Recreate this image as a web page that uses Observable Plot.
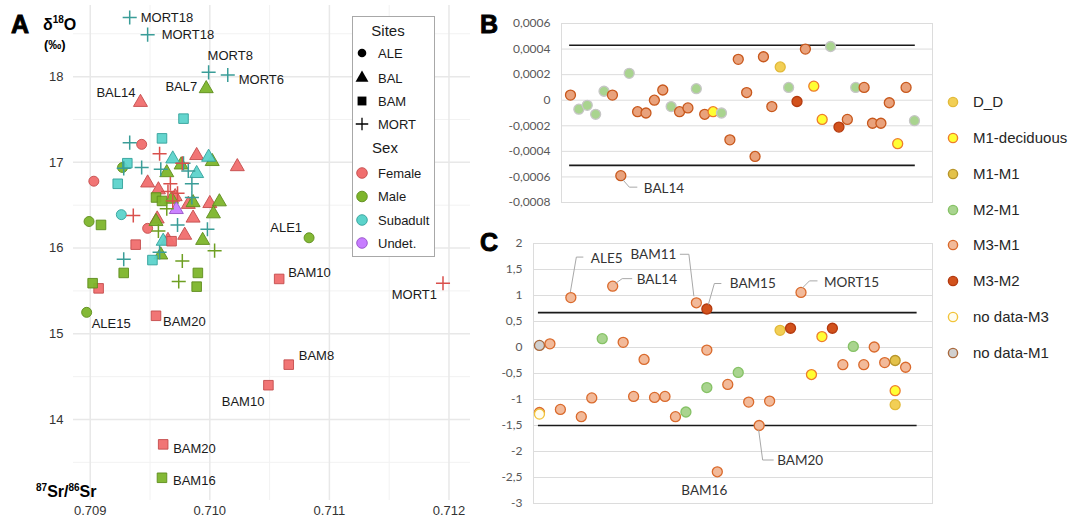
<!DOCTYPE html>
<html><head><meta charset="utf-8">
<script src="https://cdn.jsdelivr.net/npm/d3@7"></script>
<script src="https://cdn.jsdelivr.net/npm/@observablehq/plot@0.6"></script>
<style>
body{margin:0;background:#fff;}
#wrap{position:relative;width:1069px;height:518px;overflow:hidden;background:#fff;}
#wrap > *{position:absolute;}
</style></head><body><div id="wrap"></div>
<script>
// ---------- Panel A data ----------
const aSite = [
 "ALE","ALE","ALE","ALE","ALE","ALE","ALE","ALE",
 "BAL","BAL","BAL","BAL","BAL","BAL","BAL","BAL","BAL","BAL","BAL","BAL","BAL","BAL","BAL","BAL","BAL","BAL","BAL","BAL","BAL","BAL","BAL","BAL","BAL","BAL","BAL","BAL",
 "BAM","BAM","BAM","BAM","BAM","BAM","BAM","BAM","BAM","BAM","BAM","BAM","BAM","BAM","BAM","BAM","BAM","BAM","BAM","BAM","BAM",
 "MORT","MORT","MORT","MORT","MORT","MORT","MORT","MORT","MORT","MORT","MORT","MORT","MORT","MORT","MORT","MORT","MORT","MORT","MORT","MORT","MORT","MORT","MORT","MORT","MORT","MORT","MORT","MORT","MORT"];
const aSex = [
 "Female","Female","Female","Male","Male","Male","Male","Subadult",
 "Female","Female","Female","Female","Female","Female","Female","Female","Female","Female","Female","Female","Male","Male","Male","Male","Male","Male","Male","Male","Male","Male","Male","Subadult","Subadult","Subadult","Subadult","Undet.",
 "Female","Female","Female","Female","Female","Female","Female","Female","Male","Male","Male","Male","Male","Male","Male","Male","Subadult","Subadult","Subadult","Subadult","Subadult",
 "Subadult","Subadult","Subadult","Subadult","Subadult","Subadult","Subadult","Subadult","Subadult","Subadult","Subadult","Subadult","Subadult","Subadult","Subadult","Subadult","Female","Female","Female","Female","Female","Female","Female","Female","Male","Male","Male","Male","Male"];
const aSr = [
 0.70943,0.70903,0.70948,0.70927,0.70899,0.71083,0.70897,0.70926,
 0.70942,0.70989,0.71023,0.70948,0.70957,0.70982,0.71000,0.70956,0.70986,0.70979,0.70965,0.70971,0.70997,0.71002,0.70976,0.70964,0.70968,0.70986,0.71008,0.71003,0.70955,0.70994,0.70959,0.70969,0.70999,0.70989,0.70961,0.70972,
 0.71058,0.70955,0.71066,0.71049,0.70961,0.70938,0.70968,0.70907,0.70960,0.70909,0.70955,0.70960,0.70928,0.70990,0.70989,0.70902,0.70978,0.70960,0.70931,0.70923,0.70952,
 0.70933,0.70948,0.70999,0.71015,0.70933,0.70928,0.70943,0.70959,0.70978,0.70982,0.70985,0.70985,0.70973,0.70998,0.70928,0.70958,0.71195,0.70958,0.70977,0.70967,0.70965,0.70973,0.70969,0.70936,0.70964,0.70957,0.71004,0.70977,0.70974];
const aO = [
 17.21,16.78,16.23,16.94,16.31,16.12,15.25,16.39,
 17.70,17.08,16.95,16.76,16.68,16.51,16.52,16.34,16.35,16.15,16.09,16.60,17.86,17.01,16.97,16.88,16.57,16.53,16.54,16.40,16.31,16.09,15.92,17.04,17.06,16.87,16.08,16.45,
 15.64,15.21,14.64,14.40,13.71,16.04,16.08,15.53,13.32,16.27,16.59,16.55,15.71,15.71,15.55,15.59,17.51,17.28,16.99,16.75,15.86,
 18.69,18.49,18.05,18.02,17.23,16.93,16.94,16.92,16.99,16.90,16.75,16.59,16.27,16.22,15.87,15.95,15.59,17.10,16.99,16.75,16.66,16.64,16.55,16.38,16.46,16.20,15.97,15.85,15.61];
const aLabel = [
 "","","","","","ALE1","ALE15","",
 "BAL14","","","","","","","","","","","","BAL7","","","","","","","","","","","","","","","",
 "BAM10","BAM20","BAM8","BAM10","BAM20","","","","BAM16","","","","","","","","","","","","",
 "MORT18","MORT18","MORT8","MORT6","","","","","","","","","","","","","MORT1","","","","","","","","","","","",""];
const aXTicks = [0.709, 0.710, 0.711, 0.712];
const aXMinor = [0.7095, 0.7105, 0.7115];
const aYTicks = [14, 15, 16, 17, 18];
const aYMinor = [13.5, 14.5, 15.5, 16.5, 17.5, 18.5];
const siteNames = ["ALE","BAL","BAM","MORT"];
const sexNames = ["Female","Male","Subadult","Undet."];

// ---------- Panel B data ----------
const bIdx = [1,2,3,4,5,6,7,8,9,10,11,12,13,14,15,16,17,18,19,20,21,22,23,24,25,26,27,28,29,30,31,32,33,34,35,36,37,38,39,40,41,42];
const bVal = [0.00004,-0.00007,-0.00004,-0.00011,0.00007,0.00004,-0.00059,0.00021,-0.00009,-0.0001,0.0,0.00008,-0.00005,-0.00009,-0.00006,0.00009,-0.00011,-0.00009,-0.0001,-0.00031,0.00032,0.00006,-0.00044,0.00034,-0.00005,0.00026,0.0001,-0.00001,0.0004,0.00011,-0.00015,0.00042,-0.00021,-0.00015,0.0001,0.0001,-0.00018,-0.00018,-0.00002,-0.00034,0.0001,-0.00016];
const bCat = ["M3-M1","M2-M1","M2-M1","M2-M1","M2-M1","M3-M1","M3-M1","M2-M1","M3-M1","M3-M1","M3-M1","M3-M1","M2-M1","M3-M1","M3-M1","M2-M1","M3-M1","M1-deciduous","M2-M1","M3-M1","M3-M1","M3-M1","M3-M1","M3-M1","M3-M1","D_D","M2-M1","M3-M2","M3-M1","M1-deciduous","M1-deciduous","M2-M1","M3-M2","M3-M1","M2-M1","M3-M1","M3-M1","M3-M1","M3-M1","M1-deciduous","M3-M1","M2-M1"];
const bLabel = ["","","","","","","BAL14","","","","","","","","","","","","","","","","","","","","","","","","","","","","","","","","","","",""];
const bTicks = [-0.0008,-0.0006,-0.0004,-0.0002,0,0.0002,0.0004,0.0006];
const bLimits = [0.00043,-0.00051];

// ---------- Panel C data ----------
const cIdx = [1,1,1,2,3,4,5,6,7,8,9,10,11,12,13,14,15,16,17,17,17,18,19,20,21,22,23,24,25,26,27,28,29,30,31,32,33,34,35,35,35,36];
const cVal = [0.04,-1.25,-1.28,0.07,-1.19,0.96,-1.33,-0.97,0.17,1.18,0.10,-0.94,-0.23,-0.96,-0.94,-1.33,-1.24,0.86,-0.77,-0.05,0.74,-2.39,-0.71,-0.48,-1.05,-1.50,-1.03,0.33,0.37,1.06,-0.52,0.21,0.37,-0.33,0.02,-0.33,0.01,-0.29,-0.25,-0.83,-1.10,-0.38];
const cCat = ["no data-M1","M3-M1","no data-M3","M3-M1","M3-M1","M3-M1","M3-M1","M3-M1","M2-M1","M3-M1","M3-M1","M3-M1","M3-M1","M3-M1","M3-M1","M3-M1","M2-M1","M3-M1","M2-M1","M3-M1","M3-M2","M3-M1","M3-M1","M2-M1","M3-M1","M3-M1","M3-M1","D_D","M3-M2","M3-M1","M1-deciduous","M1-deciduous","M3-M2","M3-M1","M2-M1","M3-M1","M3-M1","M3-M1","M1-M1","M1-deciduous","D_D","M3-M1"];
const cLabel = ["","","","","","ALE5","","","","BAL14","","","","","","","","BAM11","","","BAM15","BAM16","","","","BAM20","","","","MORT15","","","","","","","","","","","",""];
const cTicks = [-3,-2.5,-2,-1.5,-1,-0.5,0,0.5,1,1.5,2];
const cLimits = [0.67,-1.5];
const catNames = ["D_D","M1-deciduous","M1-M1","M2-M1","M3-M1","M3-M2","no data-M3","no data-M1"];

// ---------- styles ----------
const sexFill = {"Female":"#F06E6E","Male":"#7DB52B","Subadult":"#5CD3CB","Undet.":"#C77CFF"};
const sexStroke = {"Female":"#C44C4C","Male":"#5E8C1C","Subadult":"#33A29B","Undet.":"#9550C8"};
const plusStroke = {"Female":"#D9504C","Male":"#6E9F22","Subadult":"#3A9D98","Undet.":"#9550C8"};
const siteSymbol = {"ALE":"circle","BAL":"triangle","BAM":"square","MORT":"plus"};
const siteR = {"ALE":5,"BAL":5.2,"BAM":5.4,"MORT":4.6};
const catFill = {"D_D":"#F2CF55","M1-deciduous":"#FFFF33","M1-M1":"#E3C24A","M2-M1":"#A9D48F","M3-M1":"#F2BA9A","M3-M2":"#D2521C","no data-M3":"#FFFDF0","no data-M1":"#D0D0D0"};
const catStroke = {"D_D":"#E2BA3A","M1-deciduous":"#EE7D2C","M1-M1":"#B8952A","M2-M1":"#86C266","M3-M1":"#DA6A2C","M3-M2":"#B43A0F","no data-M3":"#F2C43A","no data-M1":"#A8683C"};
const bFillOverride = {"M3-M1":"#E9A27C"};
const bStrokeOverride = {"M3-M1":"#C8581C","M2-M1":"#C6C6C6"};

// label placement (pixel offsets relative to the labelled point), in order of labelled points
const aPlace = [["end",-7,-10],["start",5,11],["end",-5,-10],["end",-9,-2],["start",9,-6],["start",7,6],["start",10,-9],["end",-4,17],["start",10,4],["start",11,3],["start",11,0],["start",14,0],["start",-1,-17],["start",11,5],["end",-6,12]];
const bPlace = [{anchor:"start",dx:23,dy:13,leader:[[2,4],[9,12],[17,12]]}];
const cPlace = [
 {anchor:"start",dx:20,dy:-39,leader:[[0,-5],[6,-40],[13,-40]]},
 {anchor:"start",dx:24,dy:-6,leader:[[3,-2],[10,-7],[20,-7]]},
 {anchor:"end",dx:-20,dy:-48,leader:[[-2,-6],[-7,-48],[-16,-48]]},
 {anchor:"start",dx:23,dy:-25,leader:[[2,-4],[8,-25],[15,-25]]},
 {anchor:"middle",dx:-13,dy:19,leader:null},
 {anchor:"start",dx:18,dy:35,leader:[[0,5],[4,35],[15,35]]},
 {anchor:"start",dx:23,dy:-10,leader:[[2,-4],[9,-11],[17,-11]]}
];

const wrap = document.getElementById("wrap");
function place(el, left, top){ el.style.left = left+"px"; el.style.top = top+"px"; wrap.appendChild(el); }
function scaleFn(s){ return s.apply ? (v=>s.apply(v)) : d3.scaleLinear().domain(s.domain).range(s.range); }
function addLeaders(svg, pts, places){
  const fx = scaleFn(svg.scale("x")), fy = scaleFn(svg.scale("y"));
  const g = d3.select(svg).append("g").attr("fill","none").attr("stroke","#A8A8A8").attr("stroke-width",1);
  pts.forEach((p,k)=>{
    const pl = places[k]; if(!pl || !pl.leader) return;
    const px = fx(p.x), py = fy(p.y);
    g.append("path").attr("d", d3.line()(pl.leader.map(([dx,dy])=>[px+dx,py+dy])));
  });
}

// ---------- Panel A ----------
const ptsA = aSr.map((x,i)=>({x, y:aO[i], site:aSite[i], sex:aSex[i], label:aLabel[i]}));
const labA = ptsA.filter(d=>d.label);
const plotA = Plot.plot({
  width: 480, height: 518,
  marginLeft: 73, marginRight: 10, marginTop: 5, marginBottom: 18,
  x: {domain:[0.70886,0.71218], ticks: aXTicks, tickFormat: d3.format(".3f"), tickSize: 0, tickPadding: 5, label: null},
  y: {domain:[13.055,18.83], ticks: aYTicks, tickFormat: d=>String(d), tickSize: 0, tickPadding: 10, label: null},
  color: {type:"identity"},
  style: {fontFamily:"'Liberation Sans', Arial, sans-serif", fontSize:"13px", color:"#333", background:"white"},
  marks: [
    Plot.ruleX(aXMinor, {stroke:"#F2F2F2", strokeWidth:1}),
    Plot.ruleY(aYMinor, {stroke:"#F2F2F2", strokeWidth:1}),
    Plot.ruleX(aXTicks, {stroke:"#E8E8E8", strokeWidth:1.5}),
    Plot.ruleY(aYTicks, {stroke:"#E8E8E8", strokeWidth:1.5}),
    ...["ALE","BAL","BAM"].map(s => Plot.dot(ptsA.filter(d=>d.site===s), {
      x:"x", y:"y", symbol: siteSymbol[s], r: siteR[s],
      fill: d=>sexFill[d.sex], stroke: d=>sexStroke[d.sex], strokeWidth:0.9, fillOpacity:0.95})),
    Plot.dot(ptsA.filter(d=>d.site==="MORT"), {x:"x", y:"y", symbol:"plus", r: siteR.MORT,
      stroke: d=>plusStroke[d.sex], strokeWidth:1.5}),
    ...labA.map((d,k)=>Plot.text([d], {x:"x", y:"y", text:"label", textAnchor: aPlace[k][0], dx: aPlace[k][1], dy: aPlace[k][2], fill:"#1a1a1a", fontSize:13}))
  ]
});
place(plotA, 0, 0);

// ---------- Panel B ----------
const fillOf = (cat, ov) => (ov && ov[cat]) || catFill[cat];
const strokeOf = (cat, ov) => (ov && ov[cat]) || catStroke[cat];
const ptsB = bIdx.map((x,i)=>({x, y:bVal[i], cat:bCat[i], label:bLabel[i]}));
const labB = ptsB.filter(d=>d.label);
const fmtB = d => d===0 ? "0" : (d<0?"-":"") + Math.abs(d).toFixed(4).replace(".",",");
const plotB = Plot.plot({
  width: 450, height: 215,
  marginLeft: 71, marginRight: 8, marginTop: 23, marginBottom: 13,
  x: {domain:[-0.07,44.15], axis:null},
  y: {domain:[-0.0008,0.0006], ticks: bTicks, tickFormat: fmtB, tickSize:0, tickPadding:11, label:null},
  color: {type:"identity"},
  style: {fontFamily:"Lato, 'Open Sans', sans-serif", fontSize:"12px", color:"#595959", background:"white"},
  marks: [
    Plot.ruleY(bTicks, {stroke:"#DCDCDC"}),
    Plot.frame({stroke:"#DCDCDC"}),
    Plot.ruleY(bLimits, {x1: bIdx[0]-0.1, x2: bIdx[bIdx.length-1]+0.1, stroke:"#1a1a1a", strokeWidth:1.6}),
    Plot.dot(ptsB, {x:"x", y:"y", r:5, fill: d=>fillOf(d.cat,bFillOverride), stroke: d=>strokeOf(d.cat,bStrokeOverride), strokeWidth:1.3}),
    ...labB.map((d,k)=>Plot.text([d], {x:"x", y:"y", text:"label", textAnchor: bPlace[k].anchor, dx: bPlace[k].dx, dy: bPlace[k].dy, fill:"#333", fontSize:13.5}))
  ]
});
addLeaders(plotB, labB, bPlace);
place(plotB, 490, 0);

// ---------- Panel C ----------
const ptsC = cIdx.map((x,i)=>({x, y:cVal[i], cat:cCat[i], label:cLabel[i]}));
const labC = ptsC.filter(d=>d.label);
const plotC = Plot.plot({
  width: 450, height: 298,
  marginLeft: 43, marginRight: 8, marginTop: 23, marginBottom: 15,
  x: {domain:[0.43,38.57], axis:null},
  y: {domain:[-3,2], ticks: cTicks, tickFormat: d=>String(d).replace(".",","), tickSize:0, tickPadding:11, label:null},
  color: {type:"identity"},
  style: {fontFamily:"Lato, 'Open Sans', sans-serif", fontSize:"12px", color:"#595959", background:"white"},
  marks: [
    Plot.ruleY(cTicks, {stroke:"#DCDCDC"}),
    Plot.frame({stroke:"#DCDCDC"}),
    Plot.ruleY(cLimits, {x1: cIdx[0]-0.1, x2: cIdx[cIdx.length-1]+1.1, stroke:"#1a1a1a", strokeWidth:1.6}),
    Plot.dot(ptsC, {x:"x", y:"y", r:5, fill: d=>fillOf(d.cat), stroke: d=>strokeOf(d.cat), strokeWidth:1.3}),
    ...labC.map((d,k)=>Plot.text([d], {x:"x", y:"y", text:"label", textAnchor: cPlace[k].anchor, dx: cPlace[k].dx, dy: cPlace[k].dy, fill:"#333", fontSize:13.5}))
  ]
});
addLeaders(plotC, labC, cPlace);
place(plotC, 490, 220);

// ---------- Overlay: panel letters, axis titles, legends ----------
const ov = d3.create("svg").attr("width",1069).attr("height",518)
  .style("font-family","'Liberation Sans', Arial, sans-serif").style("pointer-events","none");
const big = [["A",11,33],["B",480,33],["C",480,251]];
big.forEach(([t,x,y])=>ov.append("text").attr("x",x).attr("y",y).attr("font-size",25).attr("font-weight","bold")
  .attr("stroke","#000").attr("stroke-width",0.9).attr("fill","#000").text(t));
const yt = ov.append("text").attr("x",43).attr("y",30).attr("font-size",16).attr("font-weight","bold");
yt.append("tspan").text("δ");
yt.append("tspan").attr("font-size",10).attr("dy",-7).text("18");
yt.append("tspan").attr("dy",7).text("O");
ov.append("text").attr("x",44).attr("y",49).attr("font-size",13).attr("font-weight","bold").text("(‰)");
const xt = ov.append("text").attr("x",36).attr("y",497).attr("font-size",16).attr("font-weight","bold");
xt.append("tspan").attr("font-size",10).attr("dy",-6).text("87");
xt.append("tspan").attr("dy",6).text("Sr/");
xt.append("tspan").attr("font-size",10).attr("dy",-6).text("86");
xt.append("tspan").attr("dy",6).text("Sr");

// legend A
ov.append("rect").attr("x",352.5).attr("y",16.5).attr("width",82).attr("height",240).attr("fill","white").attr("stroke","#A8A8A8");
ov.append("text").attr("x",388).attr("y",36).attr("text-anchor","middle").attr("font-size",15).attr("fill","#1a1a1a").text("Sites");
const siteY = [53,78,101,124];
const legR = {"ALE":4.3,"BAL":4.8,"BAM":5,"MORT":4.1};
siteNames.forEach((s,i)=>{
  const sym = {circle:d3.symbolCircle, triangle:d3.symbolTriangle, square:d3.symbolSquare, plus:d3.symbolPlus}[siteSymbol[s]];
  const p = ov.append("path").attr("transform",`translate(362,${siteY[i]})`).attr("d", d3.symbol(sym, Math.PI*legR[s]*legR[s])());
  if (s==="MORT") p.attr("fill","none").attr("stroke","#000").attr("stroke-width",1.3); else p.attr("fill","#000");
  ov.append("text").attr("x",378).attr("y",siteY[i]+4.6).attr("font-size",13).attr("fill","#1a1a1a").text(s);
});
ov.append("text").attr("x",385).attr("y",153).attr("text-anchor","middle").attr("font-size",15).attr("fill","#1a1a1a").text("Sex");
const sexY = [173,196.5,220,243];
sexNames.forEach((s,i)=>{
  ov.append("circle").attr("cx",362).attr("cy",sexY[i]).attr("r",5.3).attr("fill",sexFill[s]).attr("stroke",sexStroke[s]).attr("stroke-width",0.9);
  ov.append("text").attr("x",378).attr("y",sexY[i]+4.6).attr("font-size",13).attr("fill","#1a1a1a").text(s);
});

// legend B/C
const catY = [102,138,174,210,245,281,317,353];
catNames.forEach((c,i)=>{
  ov.append("circle").attr("cx",953).attr("cy",catY[i]).attr("r",4.6).attr("fill",catFill[c]).attr("stroke",catStroke[c]).attr("stroke-width",1.4);
  ov.append("text").attr("x",973).attr("y",catY[i]+5.3).attr("font-size",15).attr("fill","#262626").text(c);
});
place(ov.node(), 0, 0);
</script>
</body></html>
